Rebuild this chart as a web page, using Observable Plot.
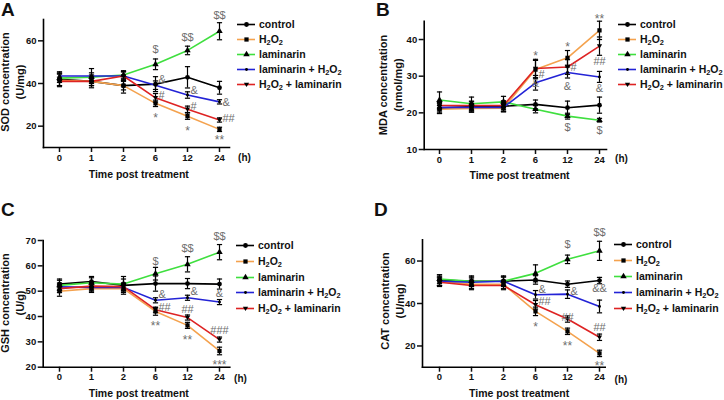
<!DOCTYPE html>
<html><head><meta charset="utf-8">
<script src="https://cdn.jsdelivr.net/npm/d3@7"></script>
<script src="https://cdn.jsdelivr.net/npm/@observablehq/plot@0.6"></script>
<style>
body{margin:0;background:#fff;font-family:"Liberation Sans",Arial,sans-serif;}
#root{position:relative;width:724px;height:400px;overflow:hidden;background:#fff;}
.panel{position:absolute;}
.lab{position:absolute;white-space:nowrap;color:#111;}
.letter{font-weight:bold;font-size:19px;line-height:19px;}
.ytitle{font-size:11px;font-weight:bold;line-height:15px;text-align:center;transform:translate(-50%,-50%) rotate(-90deg);}
.xtitle{font-weight:bold;font-size:10.5px;transform:translate(-50%,-50%);}
.unit{font-weight:bold;font-size:10px;transform:translate(-50%,-50%);}
.leg{position:absolute;display:flex;align-items:center;height:14px;font-size:10.5px;font-weight:bold;white-space:nowrap;color:#111;}
.leg svg{margin-right:4px;}
sub{font-size:70%;vertical-align:-0.25em;line-height:0;}
</style></head><body><div id="root"></div><script>
const times = ["0","1","2","6","12","24"];
const groups = ["control","H2O2","laminarin","laminarin + H2O2","H2O2 + laminarin"];
const colors = ["#000000","#f4a24e","#3fdf3f","#2323d6","#de2323"];

// SOD (U/mg)
const sodMean = [
  [42.0, 41.0, 39.0, 39.7, 42.9, 38.0],
  [41.5, 41.0, 39.0, 30.7, 24.7, 18.5],
  [42.5, 43.0, 44.0, 49.0, 55.5, 64.5],
  [43.5, 43.5, 43.5, 39.2, 34.6, 31.4],
  [41.0, 41.0, 43.5, 33.3, 27.9, 22.9]];
const sodErr = [
  [3, 3, 3.5, 3.5, 5, 3],
  [3, 2, 2, 1.5, 1.5, 1],
  [2, 2, 2, 2.5, 2, 4],
  [2, 3.5, 2, 2, 1.5, 1],
  [2, 2, 2, 2, 1.5, 1]];
const sodSigCenter = [["6",56.1,"$"],["12",61.4,"$$"],["24",71.7,"$$"],["6",25.2,"*"],["12",19.2,"*"],["24",14.7,"**"]];
const sodSigRight = [["6",42.0,"&"],["12",36.6,"&"],["24",31.1,"&"],["6",34.6,"#"],["12",29.4,"#"],["24",23.6,"##"]];

// MDA (nmol/mg)
const mdaMean = [
  [21.3, 21.7, 21.8, 22.3, 21.4, 22.1],
  [21.0, 21.2, 21.3, 31.8, 35.0, 42.5],
  [23.5, 22.5, 23.0, 21.0, 19.1, 18.0],
  [21.5, 21.5, 21.5, 28.2, 31.0, 29.8],
  [22.0, 22.0, 22.0, 32.1, 32.5, 38.2]];
const mdaErr = [
  [1.5, 1.5, 1.5, 1.2, 1.8, 2.2],
  [1, 1, 1, 2.5, 2, 2.5],
  [2.2, 1.8, 1.5, 1, 0.8, 0.5],
  [1, 1, 1, 2, 1.5, 1.5],
  [1, 1, 1, 2.5, 2, 2.5]];
const mdaSigCenter = [["6",36.4,"*"],["12",38.7,"*"],["24",46.4,"**"],["24",34.0,"##"],["6",28.0,"&"],["12",27.3,"&"],["24",26.6,"&"],["12",15.9,"$"],["24",15.3,"$"]];
const mdaSigRight = [["6",30.5,"#"],["12",32.5,"#"]];

// GSH (U/g)
const gshMean = [
  [52.8, 53.8, 52.3, 53.0, 53.0, 52.8],
  [50.0, 51.0, 51.0, 42.0, 36.5, 26.4],
  [52.3, 53.3, 52.8, 56.9, 60.6, 65.4],
  [51.7, 51.5, 51.5, 46.4, 47.4, 45.7],
  [51.0, 52.0, 51.8, 42.7, 39.6, 30.9]];
const gshErr = [
  [2, 2, 3.5, 3, 2, 2],
  [2, 1.5, 1.5, 1.5, 1.2, 1.5],
  [2, 2, 2, 2.5, 3, 3],
  [1.5, 1.5, 1.5, 1, 1, 1],
  [1.5, 1.5, 1.5, 1, 1, 1]];
const gshSigCenter = [["6",61.7,"$"],["12",67.0,"$$"],["24",71.7,"$$"],["24",49.0,"&"],["12",42.8,"##"],["24",34.6,"###"],["6",37.2,"**"],["12",31.9,"**"],["24",21.8,"***"]];
const gshSigRight = [["6",48.7,"&"],["12",49.7,"&"],["6",43.7,"##"]];

// CAT (U/mg)
const catMean = [
  [51.0, 50.5, 50.5, 51.1, 49.1, 50.8],
  [50.5, 49.0, 49.0, 36.3, 26.9, 16.5],
  [51.5, 50.5, 50.5, 54.2, 60.8, 64.8],
  [50.5, 50.0, 50.5, 44.1, 44.4, 38.6],
  [50.0, 48.5, 48.5, 39.4, 32.7, 24.1]];
const catErr = [
  [2.5, 2.5, 2.5, 2, 1.5, 1.5],
  [2, 2, 2, 2, 1.5, 1.5],
  [2, 2, 2, 4, 2, 4.5],
  [2, 2, 2, 2, 2, 3],
  [2, 2, 2, 2, 1.5, 1.5]];
const catSigCenter = [["12",67.8,"$"],["24",73.4,"$$"],["24",47.2,"&&"],["12",33.6,"##"],["24",28.8,"##"],["6",30.5,"*"],["12",21.1,"**"],["24",12.1,"**"]];
const catSigRight = [["6",46.7,"&"],["12",45.5,"&"],["6",40.9,"##"]];

// symbols
const triDown = {draw(ctx, size){ const s = Math.sqrt(size) * 0.62; ctx.moveTo(-s, -s * 0.7); ctx.lineTo(s, -s * 0.7); ctx.lineTo(0, s * 0.95); ctx.closePath(); }};
const smallDot = {draw(ctx, size){ const r = Math.sqrt(size / Math.PI) * 0.6; ctx.moveTo(r, 0); ctx.arc(0, 0, r, 0, 2 * Math.PI); }};
const cap = {draw(ctx){ ctx.moveTo(-2.6, 0); ctx.lineTo(2.6, 0); }};
const symbols = ["circle", "square", "triangle", smallDot, triDown];

const FONT = '"Liberation Sans", Arial, sans-serif';
const root = document.getElementById("root");

function panel(cfg) {
  const rows = [];
  cfg.mean.forEach((ser, g) => ser.forEach((v, i) => rows.push({g, t: times[i], v, e: cfg.err[g][i]})));
  const marks = [
    Plot.axisX({tickSize: 5, tickPadding: 1.5, label: null, fontSize: 9.5, fontWeight: "bold", strokeWidth: 1.5}),
    Plot.axisY({ticks: cfg.yTicks, tickSize: 5, tickPadding: 2, label: null, fontSize: 9.5, fontWeight: "bold", strokeWidth: 1.5}),
    Plot.frame({anchor: "left", stroke: "#000", strokeWidth: 1.6}),
    Plot.frame({anchor: "bottom", stroke: "#000", strokeWidth: 1.6})
  ];
  groups.forEach((name, g) => {
    marks.push(Plot.line(rows.filter(d => d.g === g), {x: "t", y: "v", stroke: colors[g], strokeWidth: 1.6}));
  });
  marks.push(Plot.ruleX(rows, {x: "t", y1: d => d.v - d.e, y2: d => d.v + d.e, stroke: "#000", strokeWidth: 1.2}));
  marks.push(Plot.dot(rows, {x: "t", y: d => d.v + d.e, symbol: cap, stroke: "#000", strokeWidth: 1.2}));
  marks.push(Plot.dot(rows, {x: "t", y: d => d.v - d.e, symbol: cap, stroke: "#000", strokeWidth: 1.2}));
  groups.forEach((name, g) => {
    marks.push(Plot.dot(rows.filter(d => d.g === g), {x: "t", y: "v", symbol: symbols[g], fill: "#000", r: 2.4}));
  });
  const star = d => d[2].includes("*");
  const sigStyle = {x: d => d[0], y: d => d[1], text: d => d[2], fill: "#6e6e6e", fontSize: 11, fontWeight: "normal"};
  marks.push(Plot.text(cfg.sigC.filter(d => !star(d)), sigStyle));
  marks.push(Plot.text(cfg.sigC.filter(star), {...sigStyle, dy: 3, fontSize: 12}));
  marks.push(Plot.text(cfg.sigR, {...sigStyle, textAnchor: "start", dx: 3}));

  const svg = Plot.plot({
    width: 362, height: 200,
    marginLeft: cfg.m[0], marginRight: cfg.m[1], marginTop: cfg.m[2], marginBottom: cfg.m[3],
    x: {type: "point", domain: times, range: cfg.xRange, padding: 0},
    y: {domain: cfg.yDomain},
    style: {fontFamily: FONT, color: "#111", background: "transparent", overflow: "visible"},
    marks
  });
  const wrap = document.createElement("div");
  wrap.className = "panel";
  wrap.style.left = cfg.left + "px";
  wrap.style.top = cfg.top + "px";
  wrap.appendChild(svg);
  root.appendChild(wrap);

  const add = (cls, html, x, y) => {
    const d = document.createElement("div");
    d.className = "lab " + cls;
    d.innerHTML = html;
    d.style.left = x + "px";
    d.style.top = y + "px";
    root.appendChild(d);
  };
  add("letter", cfg.letter, cfg.letterPos[0], cfg.letterPos[1]);
  add("ytitle", cfg.ytitle, cfg.ytPos[0], cfg.ytPos[1]);
  add("xtitle", "Time post treatment", cfg.xtPos[0], cfg.xtPos[1]);
  add("unit", "(h)", cfg.hPos[0], cfg.hPos[1]);

  groups.forEach((name, g) => {
    const d = document.createElement("div");
    d.className = "leg";
    d.style.left = cfg.legX + "px";
    d.style.top = (cfg.legY + g * cfg.legStep - 7) + "px";
    const ls = Plot.plot({
      width: 18, height: 14, margin: 0,
      x: {domain: [0, 1], range: [0, 18], axis: null},
      y: {domain: [0, 1], range: [14, 0], axis: null},
      style: {background: "transparent", overflow: "visible"},
      marks: [
        Plot.ruleY([0.5], {x1: 0, x2: 1, stroke: colors[g], strokeWidth: 1.6}),
        Plot.dot([0.5], {x: 0.5, y: 0.5, symbol: symbols[g], fill: "#000", r: 2.4})
      ]
    });
    d.appendChild(ls);
    const s = document.createElement("span");
    s.innerHTML = name.replace(/H2O2/g, "H<sub>2</sub>O<sub>2</sub>");
    d.appendChild(s);
    root.appendChild(d);
  });
}

panel({letter: "A", left: 0, top: 0, mean: sodMean, err: sodErr, sigC: sodSigCenter, sigR: sodSigRight,
  m: [43, 133, 19, 53], xRange: [58.7, 219], yDomain: [10, 70], yTicks: [20, 40, 60],
  letterPos: [1, 0], ytitle: "SOD concentration<br>(U/mg)", ytPos: [12.7, 82], xtPos: [138.8, 173.5], hPos: [244.5, 157],
  legX: 237, legY: 24.3, legStep: 14.8});
panel({letter: "B", left: 362, top: 0, mean: mdaMean, err: mdaErr, sigC: mdaSigCenter, sigR: mdaSigRight,
  m: [61.7, 118, 20.7, 51], xRange: [77.3, 237.3], yDomain: [10, 45], yTicks: [10, 20, 30, 40],
  letterPos: [376, 0], ytitle: "MDA concentration<br>(nmol/mg)", ytPos: [391.4, 85], xtPos: [519.5, 175], hPos: [621.5, 157.5],
  legX: 618, legY: 24.3, legStep: 14.8});
panel({letter: "C", left: 0, top: 200, mean: gshMean, err: gshErr, sigC: gshSigCenter, sigR: gshSigRight,
  m: [42.7, 132.7, 40, 33.3], xRange: [58.7, 219], yDomain: [20, 70], yTicks: [20, 30, 40, 50, 60, 70],
  letterPos: [1, 200], ytitle: "GSH concentration<br>(U/g)", ytPos: [13, 303], xtPos: [138.8, 393.3], hPos: [240.5, 378],
  legX: 236, legY: 245, legStep: 15.8});
panel({letter: "D", left: 362, top: 200, mean: catMean, err: catErr, sigC: catSigCenter, sigR: catSigRight,
  m: [60, 119.3, 39.3, 33.3], xRange: [76.7, 236.7], yDomain: [10, 70], yTicks: [20, 40, 60],
  letterPos: [374, 200], ytitle: "CAT concentration<br>(U/mg)", ytPos: [393, 301], xtPos: [519.2, 393.3], hPos: [621, 379],
  legX: 614, legY: 244, legStep: 16});
</script></body></html>
